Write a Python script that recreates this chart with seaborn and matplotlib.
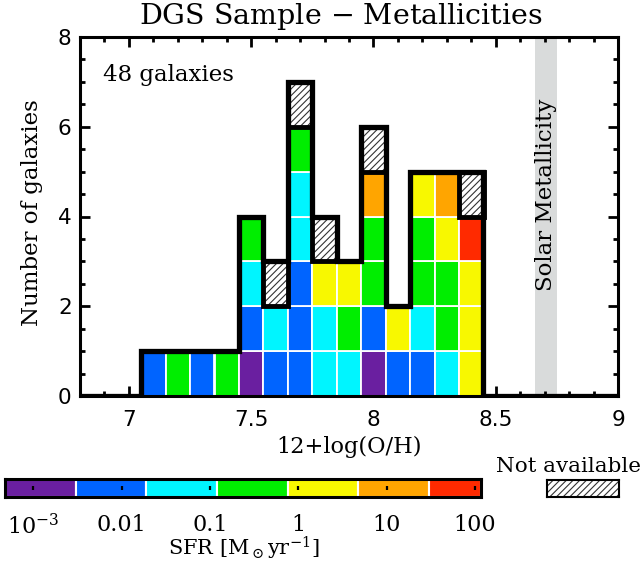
import matplotlib
matplotlib.use("Agg")
import matplotlib.pyplot as plt
from matplotlib.patches import Rectangle
from matplotlib.ticker import MultipleLocator
import numpy as np
import pandas as pd
import seaborn as sns

# 12+log(O/H) bin centres (bin width 0.1)
oh_centers = [7.1, 7.2, 7.3, 7.4, 7.5, 7.6, 7.7, 7.8, 7.9, 8.0, 8.1, 8.2, 8.3, 8.4]
# SFR class of each galaxy in the bin, bottom to top
# 0..6 follow the colour bar (low -> high SFR), -1 = not available
sfr_stacks = [
    [1], [3], [1], [3],
    [0, 1, 2, 3],
    [1, 2, -1],
    [1, 1, 1, 2, 2, 3, -1],
    [2, 2, 4, -1],
    [2, 3, 4],
    [0, 1, 3, 3, 5, -1],
    [1, 4],
    [1, 2, 3, 3, 4],
    [2, 3, 3, 4, 5],
    [4, 4, 4, 6, -1],
]
sfr_colors = ["#6a1fa0", "#0064ff", "#00f5ff", "#00ee00", "#f8f800", "#ffa500", "#ff2a00"]
# log10 SFR class boundaries (last class is cut at the end of the bar)
sfr_bounds = [-3.32, -2.52, -1.72, -0.92, -0.12, 0.68, 1.48, 2.07]
sfr_ticks = [-3, -2, -1, 0, 1, 2]
sfr_ticklabels = ["$10^{-3}$", "0.01", "0.1", "1", "10", "100"]
solar_band = [8.66, 8.75]
bin_width = 0.1

sns.set_theme(style="ticks", rc={"text.color": "black", "axes.labelcolor": "black",
                                 "xtick.color": "black", "ytick.color": "black"})
plt.rcParams["font.family"] = ["DejaVu Serif"]
plt.rcParams["mathtext.fontset"] = "dejavuserif"
plt.rcParams["hatch.linewidth"] = 0.8

# one row per galaxy
rows = []
for c, stack in zip(oh_centers, sfr_stacks):
    for level, k in enumerate(stack):
        rows.append((c, level, k))
df = pd.DataFrame(rows, columns=["oh", "level", "sfr_class"])
avail = df[df.sfr_class >= 0]
na = df[df.sfr_class < 0]

fig = plt.figure(figsize=(6.43, 5.67), dpi=100)
ax = fig.add_axes([80 / 643, 171 / 567, 538 / 643, 359 / 567])

ax.axvspan(solar_band[0], solar_band[1], color="#d9dbdb", lw=0, zorder=0)
ax.text(np.mean(solar_band), 4.48, "Solar Metallicity", rotation=90,
        ha="center", va="center", fontsize=16.5)

# coloured cells
ax.bar(avail.oh, 1, bottom=avail.level, width=bin_width,
       color=[sfr_colors[k] for k in avail.sfr_class],
       edgecolor="white", linewidth=1.3, zorder=1)
# hatched cells: SFR not available
ax.bar(na.oh, 1, bottom=na.level, width=bin_width, color="white",
       hatch="/////", edgecolor="#333333", linewidth=0, zorder=1)
ax.bar(na.oh, 1, bottom=na.level, width=bin_width, fill=False,
       edgecolor="black", linewidth=3.5, zorder=3)

# histogram outline
edges = np.round(np.arange(6.75, 9.06, bin_width), 2)
sns.histplot(x=df.oh, bins=edges, element="step", fill=False, color="black",
             linewidth=3.8, ax=ax, zorder=4)
for ln in ax.lines:
    ln.set_solid_joinstyle("miter")

ax.set_xlim(6.8, 9.0)
ax.set_ylim(0, 8)
ax.set_xlabel("")
ax.set_ylabel("")
ax.set_xticks([7, 7.5, 8, 8.5, 9])
ax.set_xticklabels(["7", "7.5", "8", "8.5", "9"])
ax.set_yticks([0, 2, 4, 6, 8])
ax.xaxis.set_minor_locator(MultipleLocator(0.1))
ax.yaxis.set_minor_locator(MultipleLocator(0.5))
ax.tick_params(which="both", direction="in", top=True, right=True,
               color="black", width=2)
ax.tick_params(which="major", length=7)
ax.tick_params(which="minor", length=3.5)
ax.tick_params(axis="x", pad=10)
ax.tick_params(axis="y", pad=6)
for lab in ax.get_xticklabels() + ax.get_yticklabels():
    lab.set_family("DejaVu Sans")
    lab.set_fontsize(15.5)
for sp in ax.spines.values():
    sp.set_linewidth(2.2)
    sp.set_color("black")
    sp.set_zorder(5)

ax.text(0.043, 0.894, "48 galaxies", transform=ax.transAxes,
        ha="left", va="center", fontsize=16.5)

fig.text(341 / 643, 1 - 17 / 567, "DGS Sample $-$ Metallicities",
         ha="center", va="center", fontsize=20.5)
fig.text(32 / 643, 1 - 213 / 567, "Number of galaxies", rotation=90,
         ha="center", va="center", fontsize=16.5)
fig.text(349 / 643, 1 - 447 / 567, "12+log(O/H)",
         ha="center", va="center", fontsize=16.2)

# SFR colour bar
cax = fig.add_axes([5 / 643, 70 / 567, 476 / 643, 18 / 567])
lo = np.array(sfr_bounds[:-1])
hi = np.array(sfr_bounds[1:])
cax.bar((lo + hi) / 2, 1, width=hi - lo, color=sfr_colors,
        edgecolor="white", linewidth=1.5)
cax.vlines(sfr_ticks, 0.38, 0.62, color="black", lw=1.6)
cax.set_xlim(sfr_bounds[0], sfr_bounds[-1])
cax.set_ylim(0, 1)
cax.set_yticks([])
cax.set_xticks(sfr_ticks)
cax.set_xticklabels(sfr_ticklabels)
cax.tick_params(axis="x", direction="in", top=True, length=3.5, width=1.6,
                color="black", pad=12, labelsize=16)
for sp in cax.spines.values():
    sp.set_linewidth(2.2)
    sp.set_color("black")
fig.text(244 / 643, 1 - 548 / 567, r"SFR [M$_\odot$yr$^{-1}$]",
         ha="center", va="center", fontsize=15)

# "Not available" key
nax = fig.add_axes([547 / 643, 70 / 567, 72 / 643, 17 / 567])
nax.add_patch(Rectangle((0, 0), 1, 1, facecolor="white", hatch="/////",
                        edgecolor="#333333", linewidth=0))
nax.set_xlim(0, 1)
nax.set_ylim(0, 1)
nax.set_xticks([])
nax.set_yticks([])
for sp in nax.spines.values():
    sp.set_linewidth(1.5)
    sp.set_color("black")
fig.text(568 / 643, 1 - 467 / 567, "Not available",
         ha="center", va="center", fontsize=15.4)

fig.savefig("out.png", dpi=100)
